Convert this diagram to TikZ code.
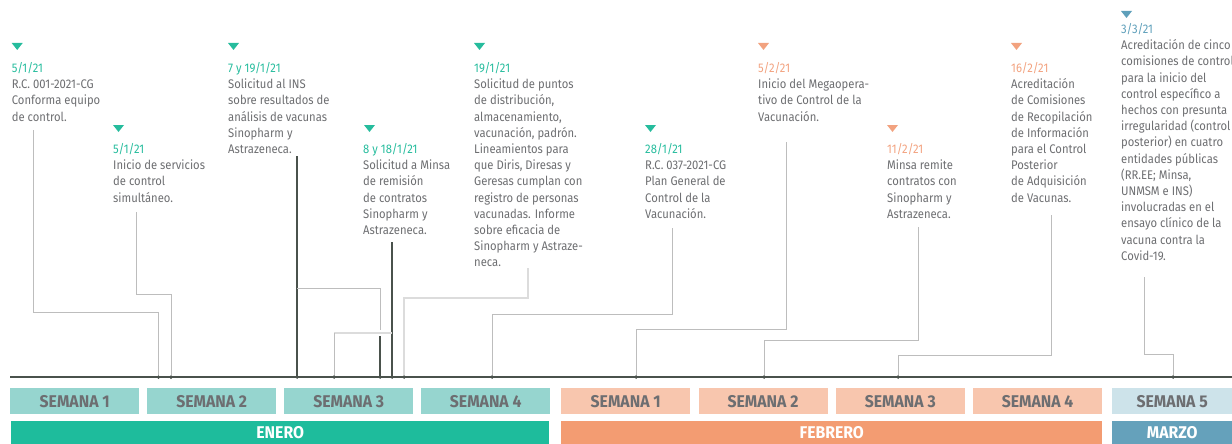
\documentclass[tikz,border=0pt]{standalone}
\usepackage{fontspec}
\setmainfont{Fira Sans}[FakeStretch=0.9]
\newfontfamily\labelfont{Fira Sans}[FakeStretch=0.93]
\usetikzlibrary{calc}

\definecolor{enero}{HTML}{1EBC9C}
\definecolor{enerolt}{HTML}{96D5CF}
\definecolor{enerodate}{HTML}{26BC9D}
\definecolor{febrero}{HTML}{F39C72}
\definecolor{febrerolt}{HTML}{F8C6AE}
\definecolor{febrerodate}{HTML}{F2A27F}
\definecolor{marzo}{HTML}{65A1BB}
\definecolor{marzolt}{HTML}{CDE3EA}
\definecolor{marzodate}{HTML}{5E9FBA}
\definecolor{txtgray}{HTML}{6D6E71}
\definecolor{axisgray}{HTML}{4A524C}
\definecolor{linegray}{HTML}{BDBDBD}
\definecolor{palegray}{HTML}{DCDCDC}

\tikzset{
  evtext/.style={anchor=north west, inner sep=0pt, align=left, text=txtgray,
    font=\fontsize{12.5}{16.2}\selectfont},
  weekbox/.style={anchor=north west, minimum width=129pt, minimum height=26pt,
    inner sep=0pt, text=txtgray, font=\labelfont\fontsize{17}{17}\selectfont\bfseries},
  monthbar/.style={anchor=north west, minimum height=23pt, inner sep=0pt,
    text=white, font=\labelfont\fontsize{17}{17}\selectfont\bfseries},
  conn/.style={linegray, line width=1pt},
  pale/.style={palegray, line width=1.8pt},
  dark/.style={axisgray, line width=1.2pt},
  tick/.style={circle, fill=axisgray, inner sep=0pt, minimum size=3.5pt}
}

\begin{document}
\begin{tikzpicture}[x=1pt,y=-1pt]
\useasboundingbox (0,0) rectangle (1232,444);

\node[weekbox, fill=enerolt] (w1) at (10,388) {SEMANA 1};
\node[weekbox, fill=enerolt] (w2) at (147,388) {SEMANA 2};
\node[weekbox, fill=enerolt] (w3) at (284,388) {SEMANA 3};
\node[weekbox, fill=enerolt] (w4) at (421,388) {SEMANA 4};
\node[weekbox, fill=febrerolt] (w5) at (561,388) {SEMANA 1};
\node[weekbox, fill=febrerolt] (w6) at (698.3,388) {SEMANA 2};
\node[weekbox, fill=febrerolt] (w7) at (835.6,388) {SEMANA 3};
\node[weekbox, fill=febrerolt] (w8) at (972.9,388) {SEMANA 4};
\node[weekbox, fill=marzolt, minimum width=120pt] (w9) at (1112,388) {SEMANA 5};

\node[monthbar, fill=enero, minimum width=538pt] (ene) at (11,421) {ENERO};
\node[monthbar, fill=febrero, minimum width=541pt] (feb) at (561,421) {FEBRERO};
\node[monthbar, fill=marzo, minimum width=120pt] (mar) at (1112,421) {MARZO};

\fill[enerodate] (11.7,43) -- ++(11,0) -- ++(-5.5,7) -- cycle;
\fill[enerodate] (113,125) -- ++(11,0) -- ++(-5.5,7) -- cycle;
\fill[enerodate] (228,43) -- ++(11,0) -- ++(-5.5,7) -- cycle;
\fill[enerodate] (364,125) -- ++(11,0) -- ++(-5.5,7) -- cycle;
\fill[enerodate] (474,43) -- ++(11,0) -- ++(-5.5,7) -- cycle;
\fill[enerodate] (645,125) -- ++(11,0) -- ++(-5.5,7) -- cycle;
\fill[febrerodate] (758,43) -- ++(11,0) -- ++(-5.5,7) -- cycle;
\fill[febrerodate] (887,125) -- ++(11,0) -- ++(-5.5,7) -- cycle;
\fill[febrerodate] (1011,43) -- ++(11,0) -- ++(-5.5,7) -- cycle;
\fill[marzodate] (1121,11) -- ++(11,0) -- ++(-5.5,7) -- cycle;

\node[evtext] (e1) at (11.7,62.2) {{\color{enerodate}\rule{0pt}{9pt}5/1/21}\\R.C. 001-2021-CG\\Conforma equipo\\de control.};
\node[evtext] (e2) at (113,143.2) {{\color{enerodate}\rule{0pt}{9pt}5/1/21}\\Inicio de servicios\\de control\\simultáneo.};
\node[evtext] (e3) at (228,62.2) {{\color{enerodate}\rule{0pt}{9pt}7 y 19/1/21}\\Solicitud al INS\\sobre resultados de\\análisis de vacunas\\Sinopharm y\\Astrazeneca.};
\node[evtext] (e4) at (363,143.2) {{\color{enerodate}\rule{0pt}{9pt}8 y 18/1/21}\\Solicitud a Minsa\\de remisión\\de contratos\\Sinopharm y\\Astrazeneca.};
\node[evtext] (e5) at (474,62.2) {{\color{enerodate}\rule{0pt}{9pt}19/1/21}\\Solicitud de puntos\\de distribución,\\almacenamiento,\\vacunación, padrón.\\Lineamientos para\\que Diris, Diresas y\\Geresas cumplan con\\registro de personas\\vacunadas. Informe\\sobre eficacia de\\Sinopharm y Astraze-\\neca.};
\node[evtext] (e6) at (645,143.2) {{\color{enerodate}\rule{0pt}{9pt}28/1/21}\\R.C. 037-2021-CG\\Plan General de\\Control de la\\Vacunación.};
\node[evtext] (e7) at (758,62.2) {{\color{febrerodate}\rule{0pt}{9pt}5/2/21}\\Inicio del Megaopera-\\tivo de Control de la\\Vacunación.};
\node[evtext] (e8) at (887,143.2) {{\color{febrerodate}\rule{0pt}{9pt}11/2/21}\\Minsa remite\\contratos con\\Sinopharm y\\Astrazeneca.};
\node[evtext] (e9) at (1011,62.2) {{\color{febrerodate}\rule{0pt}{9pt}16/2/21}\\Acreditación\\de Comisiones\\de Recopilación\\de Información\\para el Control\\Posterior\\de Adquisición\\de Vacunas.};
\node[evtext] (e10) at (1121,23.2) {{\color{marzodate}\rule{0pt}{9pt}3/3/21}\\Acreditación de cinco\\comisiones de control\\para la inicio del\\control específico a\\hechos con presunta\\irregularidad (control\\posterior) en cuatro\\entidades públicas\\(RR.EE; Minsa,\\UNMSM e INS)\\involucradas en el\\ensayo clínico de la\\vacuna contra la\\Covid-19.};

\coordinate (ax0) at (10,377);
\coordinate (ax1) at (1232,377);
\draw[axisgray, line width=2.5pt] (ax0) -- (ax1);

\coordinate (s1) at (33,130);
\coordinate (s2) at (136,212);
\coordinate (s3) at (297,156);
\coordinate (s4) at (392,242);
\coordinate (s5) at (528,268);
\coordinate (s6) at (672,228);
\coordinate (s7) at (786,142);
\coordinate (s8) at (918,227);
\coordinate (s9) at (1051,215);
\coordinate (s10) at (1144,277);

\node[tick] (t1) at (158.5,377) {};
\node[tick] (t2) at (171,377) {};
\node[tick] (t3) at (297,377) {};
\node[tick] (t4) at (334,377) {};
\node[tick] (t5) at (380,377) {};
\node[tick] (t6) at (392,377) {};
\node[tick] (t7) at (404,377) {};
\node[tick] (t8) at (492,377) {};
\node[tick] (t9) at (636,377) {};
\node[tick] (t10) at (764,377) {};
\node[tick] (t11) at (898,377) {};
\node[tick] (t12) at (1173,377) {};

\draw[conn] (s1) |- ([yshift=65pt]t1.center) -- (t1.center);
\draw[conn] (s2) |- ([yshift=83pt]t2.center) -- (t2.center);
\draw[dark] (s3) -- (t3.center);
\draw[conn] ([yshift=89pt]t3.center) -| ([yshift=47pt]t5.center);
\draw[dark] ([yshift=41pt]t5.center) -- (t5.center);
\draw[dark] (s4) -- (t6.center);
\draw[pale] ([yshift=44pt]t6.center) -- ([yshift=44pt]t4.center);
\draw[conn] ([yshift=44pt]t4.center) -- (t4.center);
\draw[pale] (s5) |- ([yshift=79pt]t7.center) -- (t7.center);
\draw[conn] (s6) |- ([yshift=63pt]t8.center) -- (t8.center);
\draw[conn] (s7) |- ([yshift=48pt]t9.center) -- (t9.center);
\draw[conn] (s8) |- ([yshift=37pt]t10.center) -- (t10.center);
\draw[conn] (s9) |- ([yshift=22pt]t11.center) -- (t11.center);
\draw[conn] (s10) |- ([yshift=23pt]t12.center) -- (t12.center);

\node[tick] at (t1) {};
\node[tick] at (t2) {};
\node[tick] at (t3) {};
\node[tick] at (t4) {};
\node[tick] at (t5) {};
\node[tick] at (t6) {};
\node[tick] at (t7) {};
\node[tick] at (t8) {};
\node[tick] at (t9) {};
\node[tick] at (t10) {};
\node[tick] at (t11) {};
\node[tick] at (t12) {};
\end{tikzpicture}
\end{document}
